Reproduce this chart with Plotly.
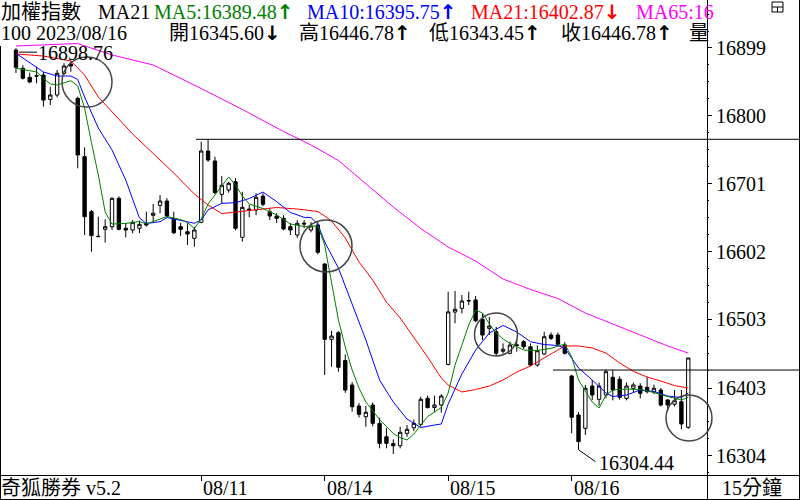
import plotly.graph_objects as go

# ---------------- data ----------------
opens = [16896.0, 16869.4, 16856.2, 16858.5, 16859.6, 16824.1, 16830.4, 16862.0, 16875.6, 16825.6,
         16740.4, 16660.2, 16623.7, 16634.5, 16638.3, 16679.7, 16636.0, 16633.5, 16636.0, 16643.3,
         16654.9, 16669.5, 16675.8, 16649.1, 16638.3, 16631.0, 16621.4, 16644.7, 16748.7, 16734.1,
         16685.5, 16691.8, 16703.9, 16622.8, 16664.0, 16662.7, 16683.0, 16660.2, 16653.9, 16650.5,
         16638.3, 16626.2, 16642.0, 16633.5, 16640.8, 16583.9, 16474.0, 16483.7, 16443.0, 16407.4,
         16376.7, 16361.1, 16378.2, 16351.5, 16331.9, 16321.8, 16318.8, 16336.9, 16345.0, 16350.0,
         16388.0, 16374.6, 16378.2, 16437.5, 16513.8, 16519.3, 16529.9, 16531.4, 16503.2, 16490.0,
         16485.1, 16456.6, 16453.6, 16466.0, 16470.5, 16463.2, 16436.5, 16452.6, 16480.3, 16480.3,
         16465.7, 16420.5, 16363.6, 16344.2, 16405.9, 16386.5, 16392.8, 16418.6, 16415.7, 16387.9,
         16402.6, 16405.9, 16404.0, 16397.6, 16400.0, 16385.5, 16379.3, 16383.0, 16345.60]
highs = [16898.76, 16874.0, 16863.0, 16871.7, 16864.0, 16842.5, 16866.9, 16876.7, 16880.5, 16828.0,
         16754.1, 16662.7, 16652.9, 16649.1, 16681.2, 16682.6, 16643.3, 16648.0, 16647.0, 16660.2,
         16671.4, 16684.5, 16680.0, 16660.2, 16644.1, 16643.3, 16638.3, 16762.3, 16765.8, 16740.4,
         16712.2, 16704.0, 16708.9, 16689.3, 16670.0, 16687.0, 16687.0, 16665.0, 16657.9, 16655.0,
         16643.3, 16648.0, 16648.0, 16645.0, 16645.0, 16585.0, 16486.5, 16486.0, 16452.0, 16411.7,
         16381.0, 16376.7, 16382.0, 16359.7, 16344.6, 16328.0, 16346.5, 16349.0, 16357.0, 16390.3,
         16392.0, 16392.0, 16394.0, 16543.5, 16544.5, 16538.7, 16543.5, 16537.2, 16511.9, 16507.0,
         16492.4, 16468.0, 16470.5, 16474.0, 16473.0, 16468.0, 16465.0, 16485.0, 16484.0, 16484.0,
         16470.0, 16422.0, 16368.0, 16407.4, 16414.6, 16411.0, 16430.0, 16429.0, 16420.0, 16411.0,
         16411.0, 16410.0, 16419.5, 16408.0, 16403.0, 16387.0, 16400.0, 16400.0, 16446.78]
lows = [16862.5, 16853.0, 16847.5, 16847.5, 16813.4, 16815.8, 16827.0, 16859.6, 16864.4, 16723.5,
        16626.2, 16601.8, 16623.0, 16615.0, 16633.5, 16633.0, 16622.8, 16628.7, 16629.0, 16638.3,
        16645.6, 16657.9, 16652.4, 16627.6, 16624.7, 16611.6, 16609.1, 16643.3, 16733.0, 16686.0,
        16672.4, 16687.9, 16633.0, 16616.4, 16652.0, 16655.0, 16668.0, 16648.0, 16644.1, 16633.0,
        16626.2, 16622.0, 16636.0, 16630.0, 16598.0, 16422.0, 16434.0, 16426.8, 16396.0, 16368.4,
        16360.0, 16346.5, 16347.0, 16315.0, 16315.0, 16306.7, 16315.0, 16332.0, 16340.0, 16346.5,
        16373.0, 16368.4, 16367.0, 16436.0, 16497.4, 16511.9, 16524.0, 16499.0, 16473.0, 16480.3,
        16449.7, 16453.0, 16452.0, 16456.0, 16460.0, 16435.0, 16434.0, 16451.0, 16473.0, 16465.0,
        16452.0, 16337.0, 16323.2, 16334.4, 16385.5, 16377.0, 16388.0, 16385.0, 16386.0, 16385.0,
        16397.0, 16388.0, 16395.0, 16394.0, 16376.0, 16369.0, 16376.0, 16342.7, 16343.45]
closes = [16870.8, 16854.8, 16849.4, 16858.0, 16823.1, 16830.4, 16862.0, 16872.7, 16872.7, 16742.9,
          16652.9, 16625.3, 16624.2, 16638.3, 16679.7, 16634.5, 16633.5, 16644.7, 16641.8, 16640.8,
          16657.9, 16675.8, 16653.9, 16629.5, 16634.5, 16627.6, 16633.5, 16748.7, 16735.6, 16687.9,
          16698.7, 16701.6, 16636.0, 16666.6, 16662.7, 16681.2, 16671.0, 16653.9, 16650.5, 16635.0,
          16633.5, 16643.3, 16643.3, 16639.3, 16600.9, 16474.0, 16478.8, 16433.2, 16400.0, 16375.7,
          16364.6, 16367.6, 16351.5, 16322.3, 16322.3, 16318.8, 16338.4, 16342.7, 16351.5, 16386.5,
          16374.5, 16378.2, 16391.3, 16514.0, 16517.8, 16529.9, 16530.5, 16501.2, 16480.3, 16493.4,
          16453.6, 16459.5, 16465.7, 16465.0, 16463.2, 16436.5, 16457.4, 16477.8, 16475.5, 16467.0,
          16453.6, 16360.3, 16324.7, 16402.6, 16392.8, 16405.9, 16426.8, 16400.0, 16389.4, 16405.9,
          16407.4, 16395.2, 16397.6, 16402.6, 16378.2, 16378.2, 16384.5, 16350.5, 16446.78]
bars = list(range(len(opens)))

ma5_bar = [0, 2, 3, 4, 5, 6, 7, 8, 9, 10, 11, 12, 13, 14, 16, 18, 19, 21, 22, 24, 25, 26, 27, 28, 29,
           31, 32, 33, 34, 36, 38, 40, 42, 43, 44, 45, 46, 47, 48, 49, 50, 51, 53, 55, 56, 57, 58, 59,
           60, 62, 63, 64, 65, 66, 67, 68, 69, 70, 71, 72, 74, 76, 78, 80, 81, 82, 83, 84, 85, 86, 87,
           89, 91, 93, 95, 97, 98]
ma5_val = [16869.4, 16866.2, 16864.0, 16855.2, 16846.5, 16845.0, 16848.6, 16851.3, 16843.5, 16811.4,
           16761.0, 16713.7, 16659.7, 16642.2, 16643.0, 16645.9, 16642.2, 16650.3, 16653.2, 16648.8,
           16644.4, 16635.7, 16649.5, 16671.4, 16684.5, 16710.8, 16699.1, 16683.1, 16671.4, 16664.8,
           16655.4, 16642.2, 16638.6, 16638.6, 16639.3, 16611.6, 16556.2, 16502.2, 16462.8, 16429.3,
           16403.0, 16382.6, 16357.0, 16336.6, 16330.8, 16327.1, 16335.9, 16349.0, 16361.4, 16374.5,
           16395.7, 16436.5, 16465.7, 16494.9, 16516.8, 16512.4, 16496.4, 16483.2, 16474.5, 16468.2,
           16458.4, 16457.7, 16460.9, 16467.2, 16448.2, 16414.7, 16398.6, 16382.6, 16373.8, 16392.8,
           16400.1, 16401.5, 16400.8, 16396.4, 16390.6, 16385.5, 16389.48]

ma10_bar = [0, 2, 4, 6, 8, 9, 10, 12, 14, 16, 18, 19, 21, 22, 24, 26, 27, 28, 30, 32, 34, 36, 38, 40,
            42, 43, 44, 45, 47, 49, 51, 53, 55, 57, 59, 61, 62, 63, 65, 67, 69, 71, 73, 75, 77, 79, 80,
            82, 84, 86, 87, 89, 91, 93, 95, 97, 98]
ma10_val = [16891.2, 16877.1, 16864.0, 16858.1, 16858.1, 16853.0, 16827.5, 16782.3, 16750.2, 16706.4,
            16651.0, 16643.0, 16645.6, 16651.7, 16647.3, 16643.3, 16648.1, 16662.7, 16672.4, 16673.3,
            16679.4, 16688.9, 16674.8, 16659.0, 16652.0, 16651.7, 16642.2, 16616.0, 16578.0, 16524.1,
            16473.0, 16414.7, 16382.6, 16357.7, 16345.4, 16349.0, 16350.5, 16379.6, 16423.4, 16458.4,
            16483.2, 16494.2, 16484.7, 16470.5, 16466.4, 16465.0, 16461.3, 16432.2, 16414.7, 16395.7,
            16390.6, 16392.8, 16400.1, 16397.9, 16391.3, 16389.1, 16395.75]

ma21_bar = [0, 4, 8, 10, 12, 14, 17, 20, 23, 26, 28, 30, 32, 35, 38, 41, 43, 44, 45, 46, 48, 50, 52,
            54, 56, 58, 60, 62, 63, 65, 67, 69, 71, 73, 75, 77, 79, 80, 82, 84, 86, 88, 90, 92, 94,
            96, 98]
ma21_val = [16890.2, 16887.3, 16880.0, 16859.6, 16827.5, 16805.6, 16773.5, 16745.1, 16716.6, 16686.0,
            16669.9, 16657.5, 16659.7, 16663.4, 16666.3, 16664.1, 16661.9, 16660.5, 16653.9, 16646.6,
            16621.8, 16586.8, 16560.5, 16528.4, 16505.1, 16477.4, 16448.2, 16417.6, 16407.4, 16397.2,
            16400.8, 16405.9, 16414.7, 16426.3, 16435.1, 16446.8, 16458.4, 16464.3, 16464.3, 16461.4,
            16454.0, 16439.5, 16427.3, 16419.0, 16413.2, 16406.6, 16402.87]

ma65_bar = [0, 9, 14, 20, 27, 33, 39, 43, 47, 51, 55, 59, 63, 67, 71, 75, 79, 83, 87, 91, 95, 98]
ma65_val = [16901.9, 16905.5, 16888.8, 16874.2, 16839.9, 16809.3, 16777.2, 16757.5, 16734.9, 16700.6,
            16667.0, 16635.7, 16608.7, 16588.2, 16562.0, 16546.7, 16533.5, 16512.4, 16496.3, 16480.3,
            16464.3, 16454.0]

day_labels = ["08/11", "08/14", "08/15", "08/16"]
day_first_bar = [27, 45, 63, 81]
ytick_vals = [16899, 16800, 16701, 16602, 16503, 16403, 16304]
prior_high = 16765.8        # 08/11 high line
ref_level = 16429.2         # right-side reference line
high_bar, high_text = 0, "16898.76"
low_bar, low_text = 82, "16304.44"

header1 = [("加權指數", "black"), ("MA21", "black"), ("MA5:16389.48↑", "#008000"),
           ("MA10:16395.75↑", "#0000ff"), ("MA21:16402.87↓", "#ff0000"), ("MA65:16", "#ff00ff")]
header2 = ["100 2023/08/16", "開16345.60↓", "高16446.78↑", "低16343.45↑", "收16446.78↑", "量"]

# ---------------- layout geometry ----------------
W, H = 800, 500
PW, PH = 707, 475            # plot area in pixels (left/top at 0)
X_RANGE = [-2.33, 100.73]
Y_RANGE = [16276.1, 16969.0]


def xpx(i):
    return (i - X_RANGE[0]) / (X_RANGE[1] - X_RANGE[0]) * PW


def ypx(p):
    return (Y_RANGE[1] - p) / (Y_RANGE[1] - Y_RANGE[0]) * PH


def fx(px):
    return px / PW


def fy(py):
    return 1 - py / PH


SERIF = "Liberation Serif, Noto Sans CJK TC, serif"
ARROW = "<span style=\"font-family:DejaVu Sans;font-weight:bold;font-size:20px\">{}</span>"


def fmt_arrows(t):
    return t.replace("↑", ARROW.format("↑")).replace("↓", ARROW.format("↓"))


fig = go.Figure()
fig.add_trace(go.Candlestick(
    x=bars, open=opens, high=highs, low=lows, close=closes,
    increasing=dict(line=dict(color="black", width=1), fillcolor="white"),
    decreasing=dict(line=dict(color="black", width=1), fillcolor="black"),
    whiskerwidth=0, showlegend=False, hoverinfo="skip"))

for bx, vals, col in [(ma65_bar, ma65_val, "#ff00ff"), (ma21_bar, ma21_val, "#ff0000"),
                      (ma10_bar, ma10_val, "#0000ff"), (ma5_bar, ma5_val, "#008000")]:
    fig.add_trace(go.Scatter(x=bx, y=vals, mode="lines", line=dict(color=col, width=1),
                             showlegend=False, hoverinfo="skip"))

shapes = []


def line_px(x0, y0, x1, y1, color="black", width=1):
    shapes.append(dict(type="line", xref="paper", yref="paper", x0=fx(x0), y0=fy(y0),
                       x1=fx(x1), y1=fy(y1), line=dict(color=color, width=width)))


# horizontal reference lines
line_px(196, ypx(prior_high), 800, ypx(prior_high))
line_px(553, ypx(ref_level), 800, ypx(ref_level))
# frame lines
line_px(0, 475.5, 800, 475.5)
line_px(707.5, 0, 707.5, 500)
line_px(799.5, 0, 799.5, 500)
line_px(0, 499.5, 800, 499.5)
line_px(0.5, 46, 0.5, 500)
# window icon top right
shapes.append(dict(type="rect", xref="paper", yref="paper", x0=fx(772), y0=fy(2), x1=fx(783),
                   y1=fy(12), line=dict(color="black", width=1)))
line_px(772, 7, 783, 7)
line_px(777.5, 7, 777.5, 12)

# circles
for cx, cy, r in [(87, 82, 25), (326, 246, 26), (496, 334.5, 21.5), (689, 418, 23)]:
    shapes.append(dict(type="circle", xref="paper", yref="paper", x0=fx(cx - r), x1=fx(cx + r),
                       y0=fy(cy - r), y1=fy(cy + r), line=dict(color="#444444", width=1.5)))

# high / low marker connectors
hy = ypx(highs[high_bar])
line_px(xpx(high_bar) + 3, hy + 4, 37, hy + 4)
lx, ly = xpx(low_bar), ypx(lows[low_bar])
line_px(lx, ly, lx, ly + 7)
line_px(lx, ly + 7, lx + 17, ly + 19)

annotations = []


def text_px(t, x, y, color="black", size=20, anchor="left", family=SERIF):
    annotations.append(dict(text=t, xref="paper", yref="paper", x=fx(x), y=fy(y),
                            xanchor=anchor, yanchor="middle", showarrow=False,
                            font=dict(family=family, size=size, color=color), borderpad=0))


h1_x = [0, 97, 153, 306, 470, 635]
for (t, c), x in zip(header1, h1_x):
    text_px(fmt_arrows(t), x, 12, c)
h2_x = [0, 168, 298, 428, 560, 688]
for t, x in zip(header2, h2_x):
    text_px(fmt_arrows(t), x, 33)

text_px(high_text, 37, hy + 5)
text_px(low_text, lx + 19, ly + 20)

text_px("奇狐勝券 v5.2", 0, 488)
text_px("15分鐘", 752, 488, anchor="center")
for lab, b in zip(day_labels, day_first_bar):
    text_px(lab, xpx(b) + 1, 488)

minor_vals = []
for a, b in zip(ytick_vals[:-1], ytick_vals[1:]):
    for k in (1, 2, 3):
        minor_vals.append(a + (b - a) * k / 4)
minor_vals += [ytick_vals[0] + (ytick_vals[0] - ytick_vals[1]) * k / 4 for k in (1, 2)]
minor_vals += [ytick_vals[-1] - (ytick_vals[-2] - ytick_vals[-1]) * k / 4 for k in (1,)]

fig.update_layout(
    width=W, height=H, autosize=False,
    margin=dict(l=0, r=W - PW, t=0, b=H - PH, pad=0),
    paper_bgcolor="white", plot_bgcolor="white",
    shapes=shapes, annotations=annotations,
    xaxis=dict(range=X_RANGE, showgrid=False, zeroline=False, showline=False,
               tickvals=day_first_bar, ticks="outside", ticklen=5, tickcolor="black",
               showticklabels=False, rangeslider=dict(visible=False), fixedrange=True),
    yaxis=dict(range=Y_RANGE, side="right", showgrid=False, zeroline=False, showline=False,
               tickvals=ytick_vals, ticktext=[str(v) for v in ytick_vals],
               ticks="outside", ticklen=4, tickcolor="black",
               tickfont=dict(family=SERIF, size=20, color="black"),
               minor=dict(tickvals=minor_vals, ticks="outside", ticklen=1, tickcolor="black"),
               fixedrange=True),
)

fig.write_html("out.html", config={"displayModeBar": False})
